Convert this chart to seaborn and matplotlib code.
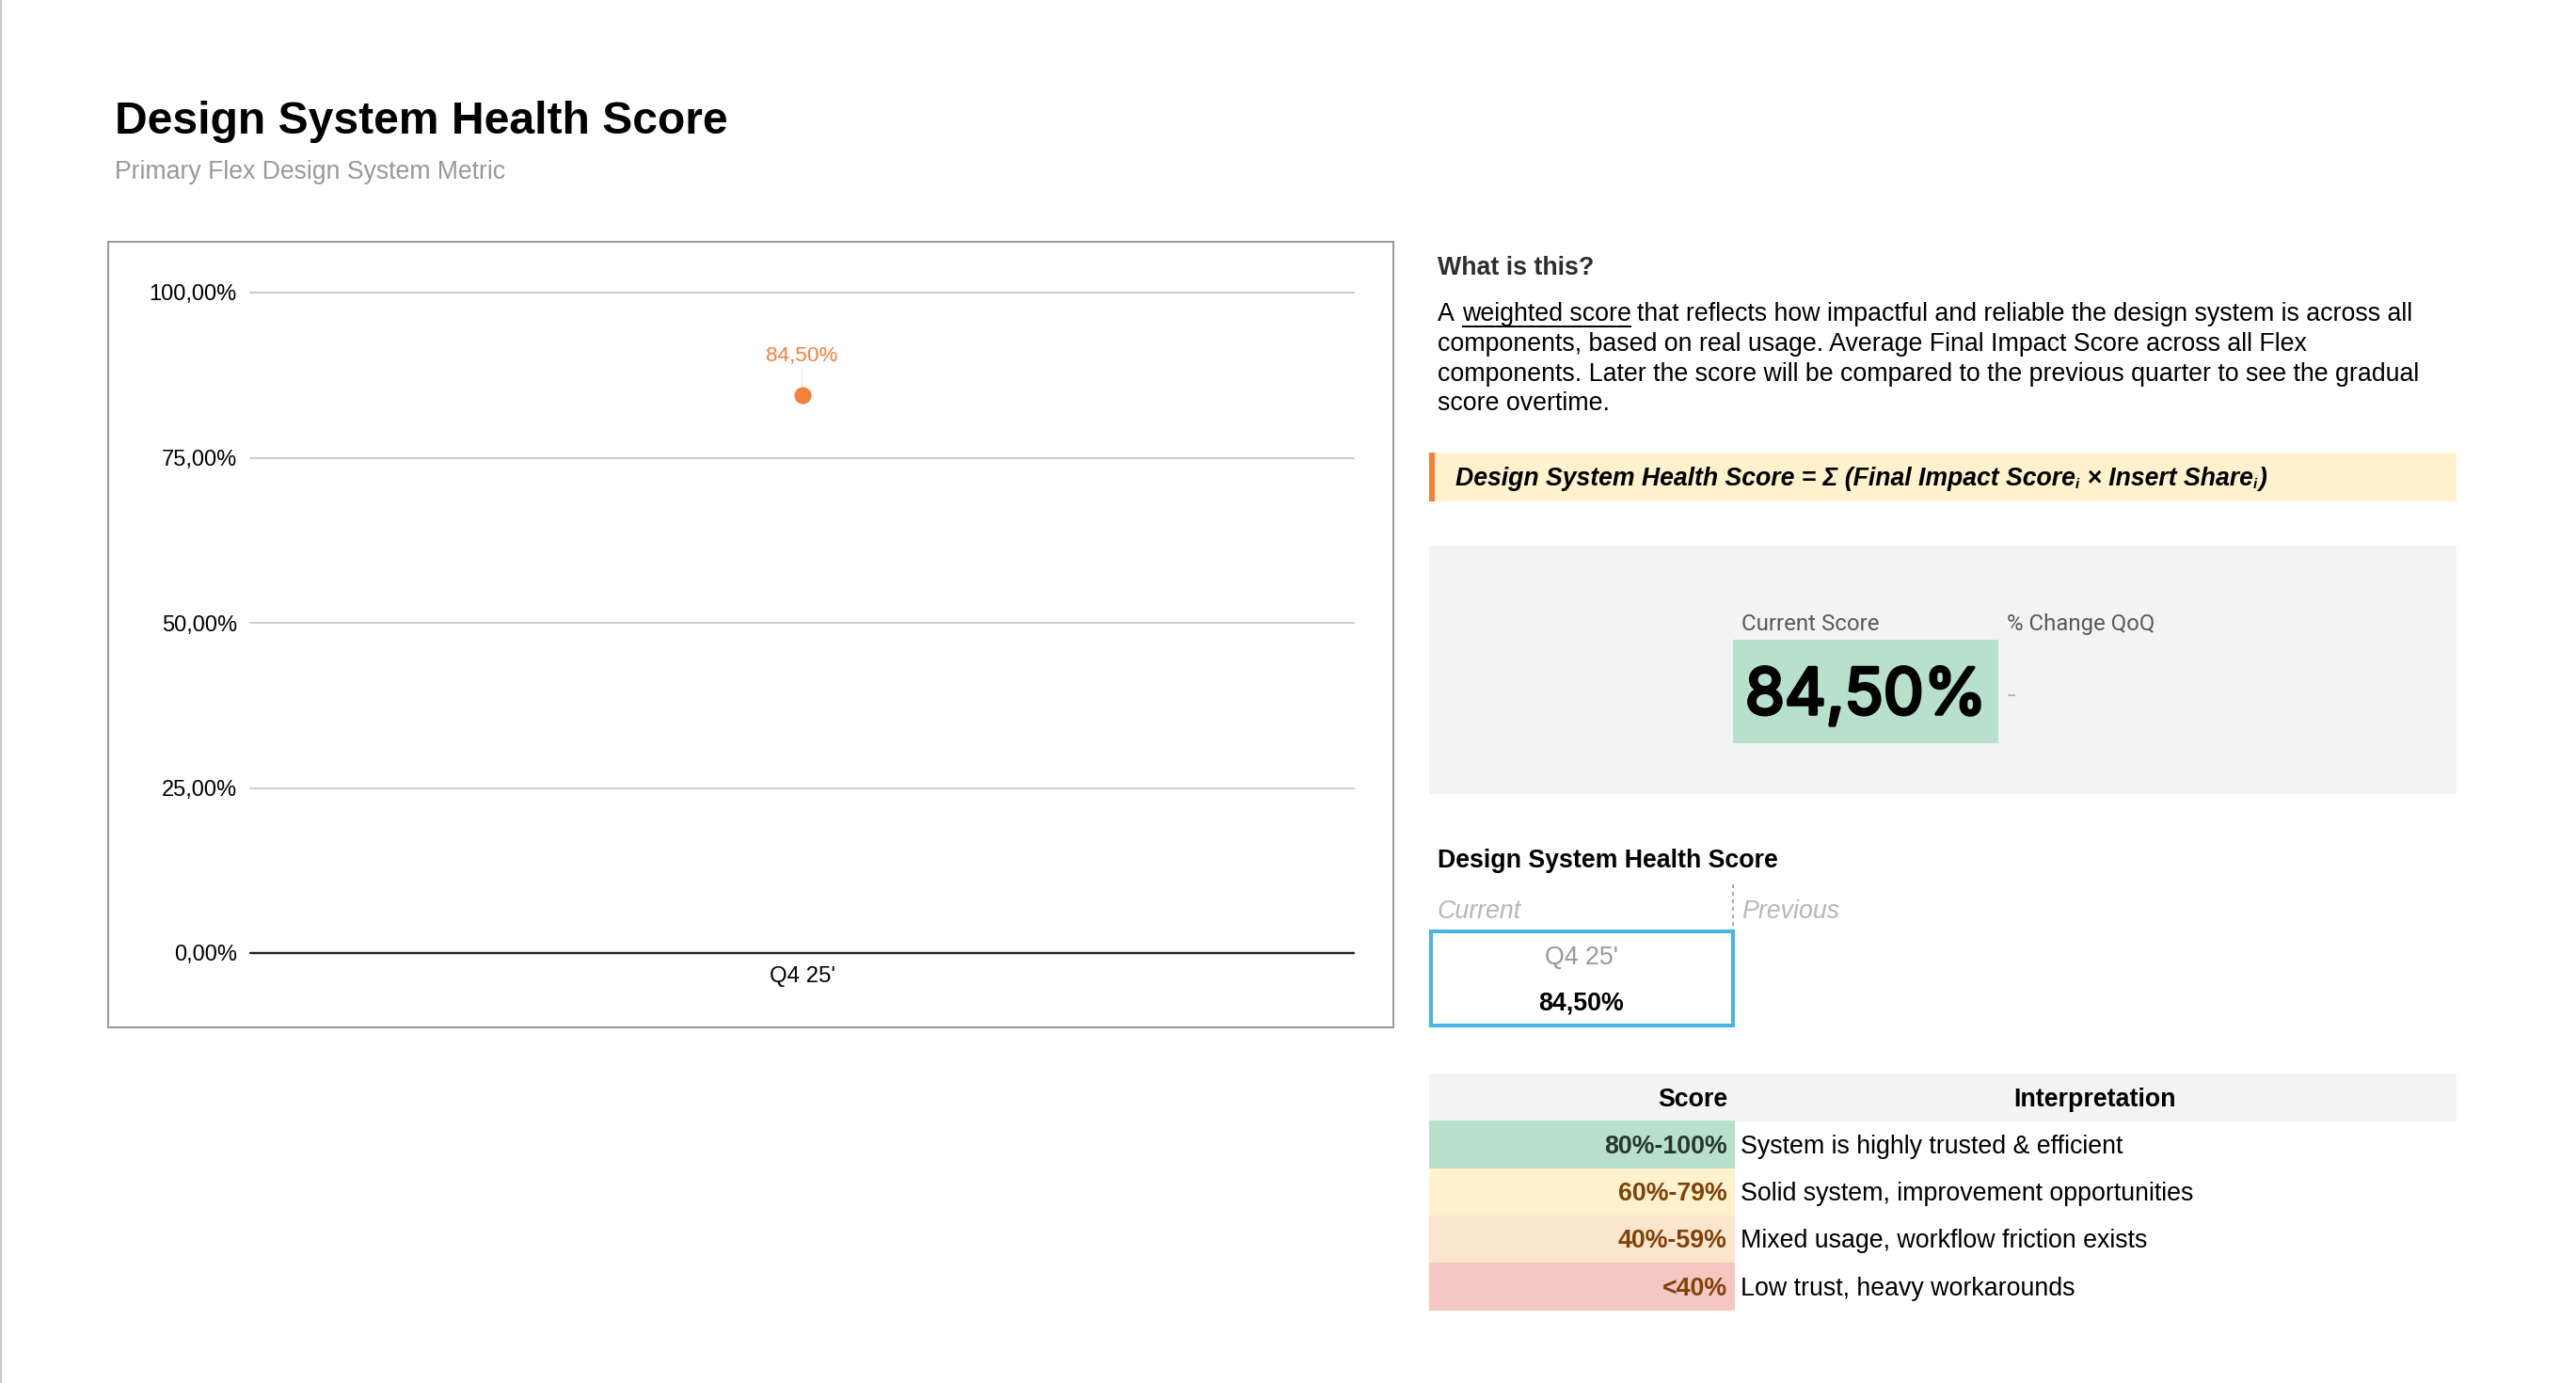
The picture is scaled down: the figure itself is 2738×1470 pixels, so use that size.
import matplotlib
matplotlib.use("Agg")
import matplotlib.pyplot as plt
import matplotlib.patheffects as pe
from matplotlib.patches import Rectangle
import pandas as pd
import seaborn as sns

W, H = 2738, 1470

quarters = ["Q4 25'"]
health_scores = [84.5]
y_ticks = [0, 25, 50, 75, 100]
y_tick_labels = ["0,00%", "25,00%", "50,00%", "75,00%", "100,00%"]
point_labels = ["84,50%"]

about_lines = [
    "components, based on real usage. Average Final Impact Score across all Flex",
    "components. Later the score will be compared to the previous quarter to see the gradual",
    "score overtime.",
]
score_ranges = ["80%-100%", "60%-79%", "40%-59%", "<40%"]
interpretations = [
    "System is highly trusted & efficient",
    "Solid system, improvement opportunities",
    "Mixed usage, workflow friction exists",
    "Low trust, heavy workarounds",
]
range_fills = ["#b7e1cd", "#fff2cc", "#fce5cd", "#f4c7c3"]
range_text = ["#27382d", "#7f4209", "#7f4209", "#7f4209"]

ORANGE = "#f4803a"
PX = 0.72  # points per pixel at dpi 100
BODY = 26.7

sns.set_theme(style="white")
plt.rcParams["font.family"] = ["Liberation Sans", "DejaVu Sans"]

fig = plt.figure(figsize=(W / 100, H / 100), dpi=100, facecolor="white")

# page layer in pixel coordinates
page = fig.add_axes([0, 0, 1, 1])
page.set_xlim(0, W)
page.set_ylim(H, 0)
page.axis("off")


def box(x0, y0, x1, y1, color, **kw):
    page.add_patch(Rectangle((x0, y0), x1 - x0, y1 - y0, facecolor=color, edgecolor="none", **kw))


def text(x, y, s, size, color="black", **kw):
    kw.setdefault("va", "center")
    return page.text(x, y, s, fontsize=size * PX, color=color, **kw)


def run_width(t):
    bb = t.get_window_extent(fig.canvas.get_renderer())
    return bb.width


box(0, 0, 2, H, "#c8c8c8")

text(122, 129, "Design System Health Score", 48, weight="bold")
text(122, 183, "Primary Flex Design System Metric", 26.6, "#999999")

# chart frame
page.add_patch(Rectangle((115, 257), 1366, 835, facecolor="white", edgecolor="#999999", linewidth=2 * PX))

# chart
ax = fig.add_axes([266 / W, 1 - 1013 / H, (1439 - 266) / W, (1013 - 311) / H], facecolor="none")
df = pd.DataFrame({"quarter": quarters, "score": health_scores})
for v in y_ticks[1:]:
    ax.axhline(v, color="#cccccc", linewidth=2 * PX, zorder=1, clip_on=False)
ax.axhline(0, color="#222222", linewidth=2.4 * PX, zorder=1, clip_on=False)
sns.scatterplot(data=df, x="quarter", y="score", color=ORANGE, s=170, linewidth=0, ax=ax, zorder=3, legend=False)
ax.set_xlim(-0.5, 0.5)
ax.set_ylim(0, 100)
ax.set_yticks(y_ticks, y_tick_labels)
ax.set_xticks(range(len(quarters)), quarters)
ax.tick_params(axis="y", length=0, pad=14 * PX, labelsize=23.6 * PX, labelcolor="black")
ax.tick_params(axis="x", length=0, pad=14 * PX, labelsize=24 * PX, labelcolor="black")
ax.set_xlabel("")
ax.set_ylabel("")
sns.despine(ax=ax, left=True, bottom=True)
for i, (score, label) in enumerate(zip(health_scores, point_labels)):
    ax.annotate("", xy=(i, score), xytext=(0, 23), textcoords="offset points",
                arrowprops=dict(arrowstyle="-", color="#e4e4e4", linewidth=1.2 * PX, shrinkB=0), zorder=2)
    ax.annotate(label, xy=(i, score), xytext=(0, 22), textcoords="offset points", ha="center", va="bottom",
                color=ORANGE, fontsize=22.5 * PX)

# what is this
text(1528, 285, "What is this?", BODY, "#2b2f2c", weight="bold")
t0 = text(1528, 334, "A ", BODY)
x = 1528 + run_width(t0) + 2
t1 = text(x, 334, "weighted score", BODY)
w1 = run_width(t1)
page.plot([x, x + w1], [347, 347], color="black", linewidth=2 * PX, solid_capstyle="butt")
text(x + w1 + 6, 334, "that reflects how impactful and reliable the design system is across all", BODY)
for y, line in zip([366, 398, 429], about_lines):
    text(1528, y, line, BODY)

# formula band
box(1519, 481, 2611, 533, "#fff2cc")
box(1519, 481, 1525, 533, ORANGE)
fx = 1547
for s, small in [("Design System Health Score = Σ (Final Impact Score", False), ("i", True),
                 (" × Insert Share", False), ("i", True), (")", False)]:
    t = text(fx, 515 if small else 509, s, 15 if small else 26.6, weight="bold", style="italic")
    fx += run_width(t) + (1 if small else 0)

# current score panel
box(1519, 580, 2611, 844, "#f3f3f3")
text(1851, 663, "Current Score", 24, "#595959", family="Roboto")
text(2133, 663, "% Change QoQ", 24, "#595959", family="Roboto")
box(1842, 680, 2124, 790, range_fills[0])
big = text(1983, 741, point_labels[0], 68, "black", ha="center", family="Inter")
big.set_path_effects([pe.withStroke(linewidth=2.6, foreground="black")])
text(2133, 739, "-", 30, "#b7b7b7")

# quarter strip
text(1528, 915, "Design System Health Score", BODY, weight="bold")
text(1528, 969, "Current", BODY, "#b7b7b7", style="italic")
text(1851, 969, "Previous", BODY, "#b7b7b7", style="italic")
page.plot([1842, 1842], [940, 986], color="#aaaaaa", linewidth=2 * PX, linestyle=(0, (2, 2)))
page.add_patch(Rectangle((1521, 990), 321, 100, facecolor="white", edgecolor="#45b5e3", linewidth=4 * PX))
text(1681, 1018, quarters[0], BODY, "#999999", ha="center")
text(1681, 1067, point_labels[0], BODY, ha="center", weight="bold")

# interpretation table
box(1519, 1141, 2611, 1192, "#f3f3f3")
text(1836, 1169, "Score", BODY, ha="right", weight="bold")
text(2227, 1169, "Interpretation", BODY, ha="center", weight="bold")
row_tops = [1191, 1241.5, 1291.5, 1342]
for top, rng, desc, fill, col in zip(row_tops, score_ranges, interpretations, range_fills, range_text):
    box(1519, top, 1844, top + 51, fill)
    text(1836, top + 28, rng, BODY, col, ha="right", weight="bold")
    text(1850, top + 28, desc, BODY)

fig.savefig("out.png", dpi=100)
plt.close(fig)
